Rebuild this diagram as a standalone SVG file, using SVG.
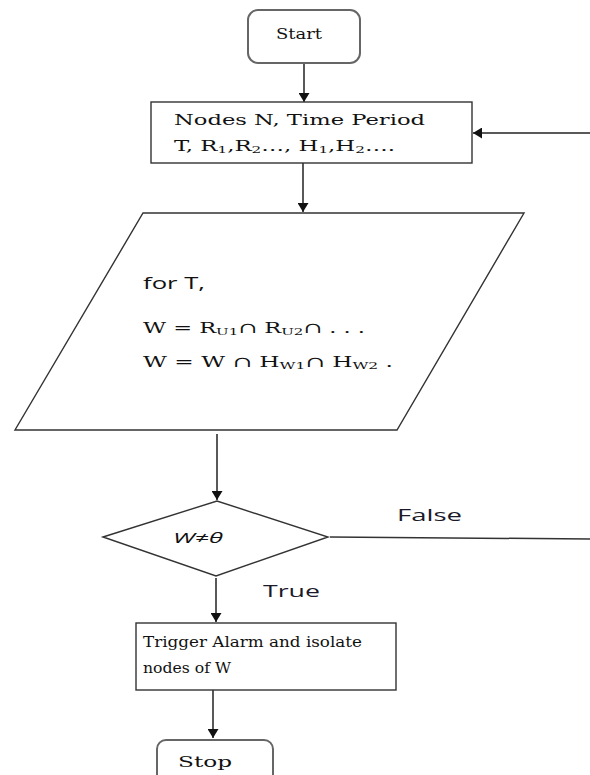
<svg xmlns="http://www.w3.org/2000/svg" width="590" height="775" viewBox="0 0 590 775">
<style>
.term{fill:#fff;stroke:#666;stroke-width:2}
.box{fill:#fff;stroke:#333;stroke-width:1.4}
.ser{font-family:"DejaVu Serif","Liberation Serif",serif;fill:#111}
.sans{font-family:"Open Sans","Liberation Sans",sans-serif;fill:#111}
.lbl{font-family:"Open Sans","Liberation Sans",sans-serif;fill:#1a1a2a;font-size:17px;font-weight:500}
.sub{font-size:10px}
.con{stroke:#222;stroke-width:1.5;fill:none;marker-end:url(#ah)}
</style>
<defs>
<marker id="ah" viewBox="0 0 9 11" refX="9" refY="5.5" markerWidth="9" markerHeight="11" markerUnits="userSpaceOnUse" orient="auto">
<path d="M0,0 L9,5.5 L0,11 z" fill="#111"/>
</marker>
</defs>
<rect width="590" height="775" fill="#fff"/>
<g id="connectors">
<line class="con" x1="304" y1="63" x2="304" y2="102"/>
<line class="con" x1="590" y1="133" x2="473" y2="133"/>
<line class="con" x1="303" y1="163" x2="303" y2="212"/>
<line class="con" x1="217" y1="434" x2="217" y2="500"/>
<line stroke="#333" stroke-width="1.5" x1="330" y1="537" x2="590" y2="539"/>
<line class="con" x1="216" y1="578" x2="216" y2="622"/>
<line class="con" x1="213" y1="690" x2="213" y2="738"/>
</g>
<g id="start">
<rect class="term" x="248" y="10" width="112" height="53" rx="10"/>
<text class="ser" x="276" y="39" font-size="15" textLength="46" lengthAdjust="spacingAndGlyphs">Start</text>
</g>
<g id="input">
<rect class="box" x="151" y="102" width="321" height="61"/>
<text class="ser" x="174" y="125" font-size="15" textLength="251" lengthAdjust="spacingAndGlyphs">Nodes N, Time Period</text>
<text class="ser" x="174" y="151" font-size="15" textLength="221" lengthAdjust="spacingAndGlyphs">T, R<tspan class="sub" dy="2">1</tspan><tspan dy="-2">,R</tspan><tspan class="sub" dy="2">2</tspan><tspan dy="-2">…, H</tspan><tspan class="sub" dy="2">1</tspan><tspan dy="-2">,H</tspan><tspan class="sub" dy="2">2</tspan><tspan dy="-2">….</tspan></text>
</g>
<g id="process">
<polygon class="box" points="143,213 524,213 397,430 15,430"/>
<text class="sans" x="143" y="289" font-size="16" textLength="62" lengthAdjust="spacingAndGlyphs">for T,</text>
<text class="ser" x="143" y="333" font-size="15" textLength="222" lengthAdjust="spacingAndGlyphs">W = R<tspan class="sub" dy="2">U1</tspan><tspan dy="-2">∩ R</tspan><tspan class="sub" dy="2">U2</tspan><tspan dy="-2">∩ . . .</tspan></text>
<text class="ser" x="143" y="367" font-size="15" textLength="250" lengthAdjust="spacingAndGlyphs">W = W  ∩ H<tspan class="sub" dy="2">W1</tspan><tspan dy="-2">∩ H</tspan><tspan class="sub" dy="2">W2</tspan><tspan dy="-2"> .</tspan></text>
</g>
<g id="decision">
<polygon class="box" points="103,537 217,501 328,537 216,576"/>
<text class="sans" x="173" y="543" font-size="15" font-style="italic" textLength="50" lengthAdjust="spacingAndGlyphs">W≠θ</text>
<text class="lbl" x="397" y="521" textLength="65" lengthAdjust="spacingAndGlyphs">False</text>
<text class="lbl" x="263" y="597" textLength="57" lengthAdjust="spacingAndGlyphs">True</text>
</g>
<g id="alarm">
<rect class="box" x="136" y="623" width="260" height="67"/>
<text class="ser" x="143" y="647" font-size="14" textLength="219" lengthAdjust="spacingAndGlyphs">Trigger Alarm and isolate</text>
<text class="ser" x="143" y="673" font-size="14" textLength="88" lengthAdjust="spacingAndGlyphs">nodes of W</text>
</g>
<g id="stop">
<rect class="term" x="157" y="740" width="116" height="50" rx="9"/>
<text class="ser" x="178" y="767" font-size="15" textLength="54" lengthAdjust="spacingAndGlyphs">Stop</text>
</g>
</svg>
